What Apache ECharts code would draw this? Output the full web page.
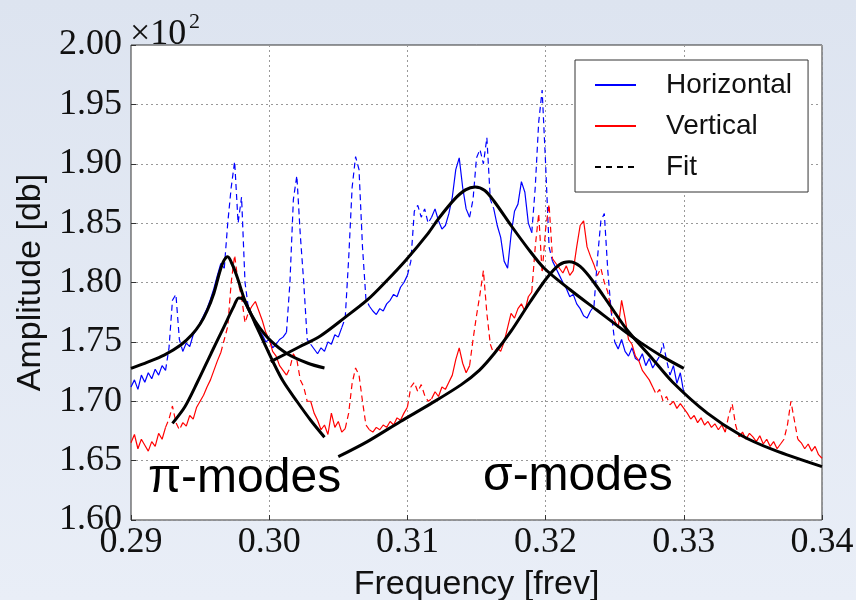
<!DOCTYPE html>
<html>
<head>
<meta charset="utf-8">
<script src="https://cdn.jsdelivr.net/npm/echarts@6/dist/echarts.min.js"></script>
<style>
html, body { margin: 0; padding: 0; }
#main { width: 856px; height: 600px; }
</style>
</head>
<body>
<div id="main"></div>
<script>
// frequency grid of the measured spectra: 0.29 .. 0.34 frev, step 0.00025
var freqStart = 0.29;
var freqStep = 0.00025;

// Horizontal (blue) amplitude, x1e2 db, from 0.29 to 0.33
var hAmp = [
  1.712,1.718,1.710,1.722,1.716,1.724,1.719,1.727,1.722,1.730,
  1.726,1.745,1.785,1.790,1.752,1.742,1.749,1.746,1.756,1.760,
  1.766,1.772,1.778,1.786,1.795,1.806,1.816,1.812,1.850,1.880,
  1.902,1.850,1.872,1.800,1.778,1.772,1.764,1.760,1.756,1.750,
  1.752,1.745,1.748,1.752,1.754,1.758,1.800,1.870,1.890,1.840,
  1.800,1.752,1.748,1.744,1.740,1.745,1.742,1.750,1.748,1.756,
  1.754,1.762,1.770,1.820,1.880,1.906,1.895,1.830,1.786,1.780,
  1.776,1.773,1.778,1.776,1.782,1.785,1.790,1.788,1.796,1.800,
  1.806,1.818,1.860,1.865,1.855,1.862,1.850,1.855,1.862,1.852,
  1.845,1.848,1.858,1.872,1.895,1.905,1.880,1.862,1.855,1.870,
  1.905,1.912,1.900,1.922,1.870,1.862,1.848,1.838,1.818,1.812,
  1.840,1.860,1.866,1.885,1.876,1.850,1.842,1.880,1.935,1.962,
  1.900,1.830,1.818,1.812,1.806,1.800,1.795,1.788,1.790,1.782,
  1.778,1.772,1.770,1.776,1.780,1.820,1.852,1.858,1.810,1.775,
  1.750,1.744,1.752,1.742,1.738,1.745,1.736,1.734,1.740,1.730,
  1.736,1.728,1.733,1.738,1.749,1.735,1.722,1.730,1.715,1.724,
  1.707
];
// parts of the horizontal spectrum drawn dashed (excluded from fit)
var hDashed = [[0.29275,0.2935],[0.297,0.29825],[0.3015,0.30275],[0.3055,0.307],
  [0.31025,0.3115],[0.31475,0.316],[0.31925,0.32025],[0.32375,0.32475],[0.32825,0.32875]];

// Vertical (red) amplitude, from 0.29 to 0.34
var vAmp = [
  1.665,1.672,1.660,1.668,1.663,1.658,1.666,1.662,1.673,1.668,
  1.678,1.685,1.696,1.682,1.676,1.682,1.679,1.688,1.685,1.695,
  1.700,1.705,1.712,1.718,1.726,1.734,1.741,1.752,1.763,1.800,
  1.823,1.800,1.788,1.766,1.775,1.780,1.784,1.776,1.768,1.758,
  1.752,1.742,1.738,1.730,1.726,1.722,1.728,1.740,1.735,1.718,
  1.712,1.700,1.700,1.690,1.684,1.676,1.680,1.672,1.690,1.678,
  1.683,1.674,1.677,1.690,1.715,1.728,1.722,1.700,1.680,1.676,
  1.674,1.678,1.676,1.680,1.678,1.683,1.680,1.686,1.684,1.690,
  1.695,1.712,1.716,1.708,1.714,1.705,1.700,1.702,1.708,1.704,
  1.712,1.710,1.716,1.722,1.735,1.745,1.732,1.724,1.730,1.752,
  1.772,1.790,1.810,1.774,1.748,1.740,1.745,1.742,1.750,1.762,
  1.774,1.770,1.778,1.782,1.776,1.788,1.792,1.830,1.858,1.808,
  1.845,1.866,1.820,1.816,1.812,1.808,1.814,1.806,1.810,1.830,
  1.848,1.852,1.830,1.822,1.815,1.806,1.812,1.800,1.792,1.776,
  1.768,1.762,1.785,1.770,1.752,1.748,1.738,1.734,1.726,1.722,
  1.718,1.712,1.706,1.710,1.700,1.704,1.697,1.700,1.694,1.698,
  1.694,1.690,1.685,1.688,1.682,1.686,1.680,1.683,1.678,1.681,
  1.676,1.680,1.674,1.688,1.698,1.680,1.670,1.674,1.668,1.673,
  1.670,1.666,1.671,1.664,1.668,1.662,1.666,1.660,1.664,1.668,
  1.680,1.700,1.684,1.668,1.665,1.660,1.664,1.658,1.662,1.655,
  1.652
];
var vDashed = [[0.29275,0.2935],[0.29675,0.29825],[0.3015,0.30275],[0.30575,0.307],
  [0.31025,0.3115],[0.31475,0.316],[0.31925,0.32025],[0.32375,0.32475],[0.328,0.329],
  [0.33325,0.33375],[0.33725,0.338]];

// fitted resonance curves [freq, amplitude]
var fitPiH = [[0.2900,1.7277],[0.2912,1.7330],[0.2924,1.7389],[0.2936,1.7474],[0.2944,1.7560],
  [0.2950,1.7650],[0.2955,1.7760],[0.2960,1.7910],[0.2964,1.8080],[0.2967,1.8180],[0.2970,1.8217],
  [0.2973,1.8160],[0.2977,1.8040],[0.2982,1.7860],[0.2987,1.7730],[0.2993,1.7620],[0.3001,1.7510],
  [0.3013,1.7400],[0.3028,1.7320],[0.3040,1.7280]];
var fitPiV = [[0.2930,1.6814],[0.2939,1.6954],[0.2948,1.7160],[0.2958,1.7404],[0.2967,1.7620],
  [0.2974,1.7790],[0.2978,1.7870],[0.2981,1.7860],[0.2985,1.7780],[0.2990,1.7650],[0.2996,1.7500],
  [0.3002,1.7350],[0.3010,1.7170],[0.3020,1.7000],[0.3030,1.6840],[0.3040,1.6697]];
var fitSigmaH = [[0.3001,1.7333],[0.3022,1.7459],[0.3037,1.7550],[0.3054,1.7698],[0.3071,1.7853],
  [0.3085,1.8015],[0.3099,1.8190],[0.3115,1.8414],[0.3122,1.8530],[0.3134,1.8700],[0.3142,1.8780],
  [0.3149,1.8805],[0.3156,1.8775],[0.3163,1.8680],[0.3175,1.8480],[0.3187,1.8290],[0.3199,1.8120],
  [0.3218,1.7937],[0.3237,1.7768],[0.3256,1.7600],[0.3268,1.7500],[0.3284,1.7380],[0.3300,1.7277]];
var fitSigmaV = [[0.3050,1.6533],[0.3071,1.6660],[0.3095,1.6830],[0.3117,1.6980],[0.3139,1.7140],
  [0.3152,1.7260],[0.3163,1.7404],[0.3175,1.7590],[0.3189,1.7840],[0.3201,1.8040],[0.3210,1.8150],
  [0.3217,1.8175],[0.3225,1.8135],[0.3235,1.8000],[0.3247,1.7800],[0.3259,1.7600],[0.3276,1.7375],
  [0.3292,1.7160],[0.3317,1.6900],[0.3341,1.6716],[0.3365,1.6590],[0.3400,1.6449]];

function freqAt(i){
	return +(freqStart + i*freqStep).toFixed(5);
}
function inRanges(f, ranges){
	for(var k=0;k<ranges.length;k++){
		if(f >= ranges[k][0]-1e-7 && f <= ranges[k][1]+1e-7) return true;
	}
	return false;
}
// split one spectrum into a solid part and a dashed part
function splitLines(amp, ranges){
	var flags = [], solid = [], dashed = [];
	for(var i=0;i<amp.length;i++) flags.push(inRanges(freqAt(i), ranges));
	for(var i=0;i<amp.length;i++){
		var f = freqAt(i);
		solid.push([f, flags[i] ? '-' : amp[i]]);
		var near = flags[i] || flags[i-1] || flags[i+1];
		dashed.push([f, near ? amp[i] : '-']);
	}
	return {solid: solid, dashed: dashed};
}

var h = splitLines(hAmp, hDashed);
var v = splitLines(vAmp, vDashed);

var serifFont = '"Liberation Serif", "DejaVu Serif", serif';
var sansFont = '"Liberation Sans", Arial, sans-serif';

function dataLine(name, data, color, dashed){
	return {
		name: name, type: 'line', data: data, symbol: 'none', silent: true,
		lineStyle: { color: color, width: 1.2, type: dashed ? [6,4] : 'solid' },
		itemStyle: { color: color }
	};
}
function fitLine(name, data){
	return {
		name: name, type: 'line', data: data, symbol: 'none', smooth: 0.3, silent: true, z: 5,
		lineStyle: { color: '#000', width: 3 }, itemStyle: { color: '#000' }
	};
}

var chart = echarts.init(document.getElementById('main'));
var option = {
	animation: false,
	backgroundColor: {
		type: 'linear', x: 0, y: 0, x2: 0, y2: 1,
		colorStops: [{offset: 0, color: '#dde4f0'}, {offset: 1, color: '#e9eef7'}]
	},
	grid: {
		left: 131, top: 45, right: 34, bottom: 80, outerBoundsMode: 'none',
		show: true, backgroundColor: '#fff', borderColor: '#333', borderWidth: 1
	},
	xAxis: {
		type: 'value', min: 0.29, max: 0.34, interval: 0.01,
		name: 'Frequency [frev]', nameLocation: 'middle', nameGap: 48,
		nameTextStyle: { fontFamily: sansFont, fontSize: 34, color: '#111' },
		axisLine: { show: false },
		axisTick: { show: true, inside: true, length: 5, lineStyle: { color: '#333' } },
		axisLabel: {
			margin: 5, fontFamily: serifFont, fontSize: 36, color: '#111',
			formatter: function(val){ return val.toFixed(2); }
		},
		splitLine: { show: true, lineStyle: { color: '#999', width: 1, type: [2,3] } }
	},
	yAxis: {
		type: 'value', min: 1.6, max: 2.0, interval: 0.05,
		name: 'Amplitude [db]', nameLocation: 'middle', nameGap: 73,
		nameTextStyle: { fontFamily: sansFont, fontSize: 34, color: '#111' },
		axisLine: { show: false },
		axisTick: { show: true, inside: true, length: 5, lineStyle: { color: '#333' } },
		axisLabel: {
			margin: 9, fontFamily: serifFont, fontSize: 36, color: '#111',
			formatter: function(val){ return val.toFixed(2); }
		},
		splitLine: { show: true, lineStyle: { color: '#999', width: 1, type: [2,3] } }
	},
	legend: {
		orient: 'vertical', left: 575, top: 60,
		data: ['Horizontal', 'Vertical', 'Fit'],
		backgroundColor: '#fff', borderColor: '#333', borderWidth: 1, borderRadius: 0,
		padding: [10, 16, 10, 19],
		itemWidth: 41, itemHeight: 14, itemGap: 11,
		itemStyle: { opacity: 0 },
		textStyle: { fontFamily: sansFont, fontSize: 28, color: '#111', lineHeight: 30, padding: [0,0,0,25] }
	},
	graphic: [
		{ type: 'text', left: 130, top: 17, style: { text: '×10', font: '36px ' + serifFont, fill: '#111' } },
		{ type: 'text', left: 189, top: 11, style: { text: '2', font: '22px ' + serifFont, fill: '#111' } },
		{ type: 'text', left: 148, top: 455, z: 10, style: { text: 'π-modes', font: '48px ' + sansFont, fill: '#000' } },
		{ type: 'text', left: 483, top: 453, z: 10, style: { text: 'σ-modes', font: '48px ' + sansFont, fill: '#000' } }
	],
	series: [
		dataLine('Horizontal', h.solid, '#0000ff', false),
		dataLine('Horizontal dashed', h.dashed, '#0000ff', true),
		dataLine('Vertical', v.solid, '#ff0000', false),
		dataLine('Vertical dashed', v.dashed, '#ff0000', true),
		fitLine('fit pi H', fitPiH),
		fitLine('fit pi V', fitPiV),
		fitLine('fit sigma H', fitSigmaH),
		fitLine('fit sigma V', fitSigmaV),
		{
			name: 'Fit', type: 'line', data: [], symbol: 'none',
			lineStyle: { color: '#000', width: 1.5, type: [6,5] }, itemStyle: { color: '#000' }
		}
	]
};
chart.setOption(option);
</script>
</body>
</html>
